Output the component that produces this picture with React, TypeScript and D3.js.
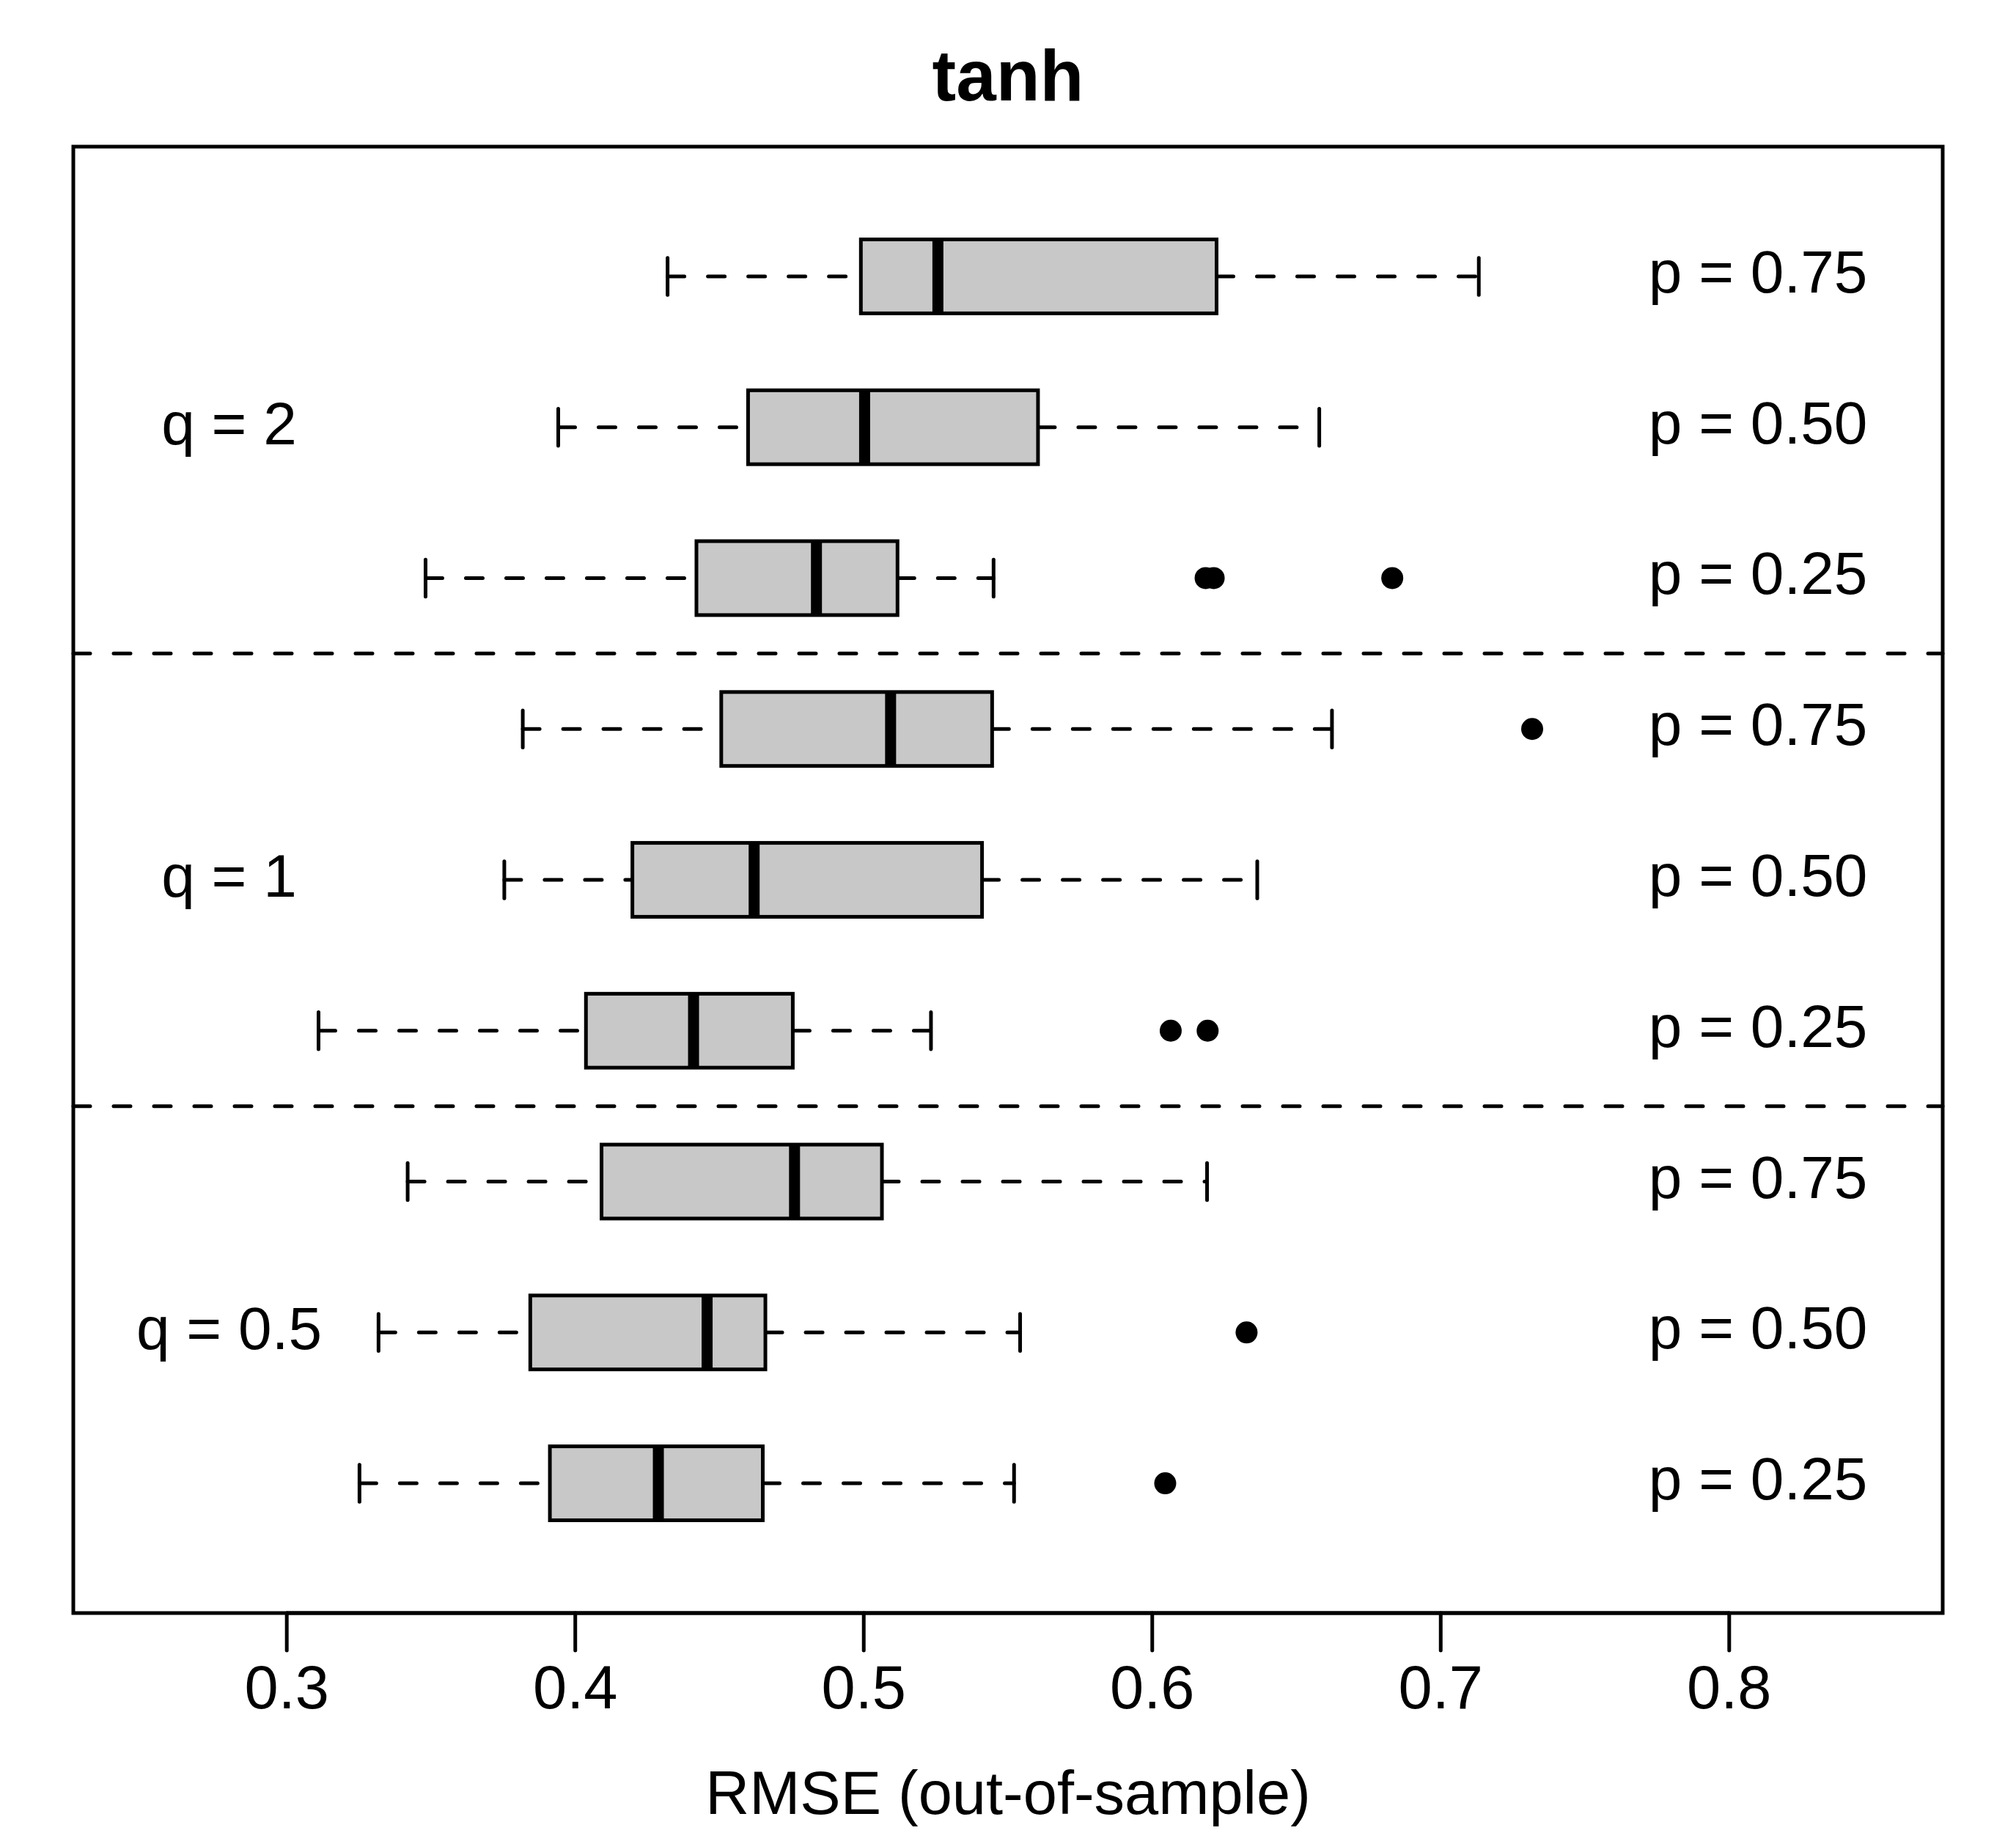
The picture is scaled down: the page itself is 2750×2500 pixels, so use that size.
import { useEffect } from "react";
import * as d3 from "d3";

// rows from bottom to top: q = 0.5, 1, 2 each with p = 0.25, 0.50, 0.75
const groupLabels = ["q = 0.5", "q = 1", "q = 2"];
const rowLabels = ["p = 0.25", "p = 0.50", "p = 0.75", "p = 0.25", "p = 0.50", "p = 0.75", "p = 0.25", "p = 0.50", "p = 0.75"];

const lowerWhisker = [0.3252, 0.3318, 0.3419, 0.311, 0.3754, 0.3818, 0.3481, 0.3941, 0.432];
const q1 = [0.3912, 0.3844, 0.4091, 0.4037, 0.4198, 0.4506, 0.442, 0.4599, 0.499];
const median = [0.4288, 0.4457, 0.476, 0.441, 0.462, 0.5093, 0.4836, 0.5003, 0.5257];
const q3 = [0.465, 0.4659, 0.5063, 0.4754, 0.541, 0.5445, 0.5117, 0.5604, 0.6223];
const upperWhisker = [0.5521, 0.5542, 0.619, 0.5233, 0.6364, 0.6623, 0.545, 0.6579, 0.7132];
const outliers: number[][] = [[0.6045], [0.6327], [], [0.6064, 0.6192], [], [0.7317], [0.6185, 0.6213, 0.6832], [], []];

const xTicks = [0.3, 0.4, 0.5, 0.6, 0.7, 0.8];
const xlim = [0.25, 0.85];
const separators = [3.5, 6.5];

const W = 2750;
const H = 2500;
const plot = { left: 100, right: 2650, top: 200, bottom: 2200 };
const font = "'Liberation Sans', Arial, Helvetica, sans-serif";

export default function App() {
  useEffect(() => {
    document.body.style.margin = "0";
  }, []);

  const pad = (xlim[1] - xlim[0]) * 0.04;
  const x = d3.scaleLinear().domain([xlim[0] - pad, xlim[1] + pad]).range([plot.left, plot.right]);
  const n = rowLabels.length;
  const ypad = n * 0.04;
  const y = d3.scaleLinear().domain([0.5 - ypad, n + 0.5 + ypad]).range([plot.bottom, plot.top]);

  const boxHalf = 0.245;
  const stapleHalf = boxHalf / 2;
  const lw = 5;
  // R's lty = 2 with round line ends
  const dash = "23 32";

  return (
    <svg width={W} height={H} viewBox={`0 0 ${W} ${H}`} style={{ display: "block", background: "white" }}>
      <text x={(plot.left + plot.right) / 2} y={137} textAnchor="middle" fontFamily={font} fontWeight="bold" fontSize={98}>
        tanh
      </text>

      {separators.map((s) => (
        <line key={s} x1={plot.left} x2={plot.right} y1={y(s)} y2={y(s)} stroke="black" strokeWidth={lw} strokeDasharray={dash} strokeLinecap="round" />
      ))}

      {rowLabels.map((lab, i) => {
        const pos = i + 1;
        const cy = y(pos);
        const top = y(pos + boxHalf);
        const bot = y(pos - boxHalf);
        const sTop = y(pos + stapleHalf);
        const sBot = y(pos - stapleHalf);
        return (
          <g key={i}>
            <line x1={x(lowerWhisker[i])} x2={x(q1[i])} y1={cy} y2={cy} stroke="black" strokeWidth={lw} strokeDasharray={dash} strokeLinecap="round" />
            <line x1={x(q3[i])} x2={x(upperWhisker[i])} y1={cy} y2={cy} stroke="black" strokeWidth={lw} strokeDasharray={dash} strokeLinecap="round" />
            <line x1={x(lowerWhisker[i])} x2={x(lowerWhisker[i])} y1={sTop} y2={sBot} stroke="black" strokeWidth={lw} strokeLinecap="round" />
            <line x1={x(upperWhisker[i])} x2={x(upperWhisker[i])} y1={sTop} y2={sBot} stroke="black" strokeWidth={lw} strokeLinecap="round" />
            <rect x={x(q1[i])} y={top} width={x(q3[i]) - x(q1[i])} height={bot - top} fill="#c8c8c8" stroke="black" strokeWidth={lw} />
            <line x1={x(median[i])} x2={x(median[i])} y1={top} y2={bot} stroke="black" strokeWidth={15} />
            {outliers[i].map((o, j) => (
              <circle key={j} cx={x(o)} cy={cy} r={15} fill="black" />
            ))}
            <text x={x(0.81)} y={cy + 22} textAnchor="middle" fontFamily={font} fontSize={82}>
              {lab}
            </text>
          </g>
        );
      })}

      {groupLabels.map((g, k) => (
        <text key={g} x={x(0.28)} y={y(k * 3 + 2) + 23} textAnchor="middle" fontFamily={font} fontSize={82}>
          {g}
        </text>
      ))}

      <rect x={plot.left} y={plot.top} width={plot.right - plot.left} height={plot.bottom - plot.top} fill="none" stroke="black" strokeWidth={lw} />

      <line x1={x(xTicks[0])} x2={x(xTicks[xTicks.length - 1])} y1={plot.bottom} y2={plot.bottom} stroke="black" strokeWidth={lw} />
      {xTicks.map((t) => (
        <g key={t}>
          <line x1={x(t)} x2={x(t)} y1={plot.bottom} y2={plot.bottom + 51} stroke="black" strokeWidth={lw} strokeLinecap="round" />
          <text x={x(t)} y={2330} textAnchor="middle" fontFamily={font} fontSize={83}>
            {d3.format(".1f")(t)}
          </text>
        </g>
      ))}

      <text x={(plot.left + plot.right) / 2} y={2474} textAnchor="middle" fontFamily={font} fontSize={83}>
        RMSE (out-of-sample)
      </text>
    </svg>
  );
}
